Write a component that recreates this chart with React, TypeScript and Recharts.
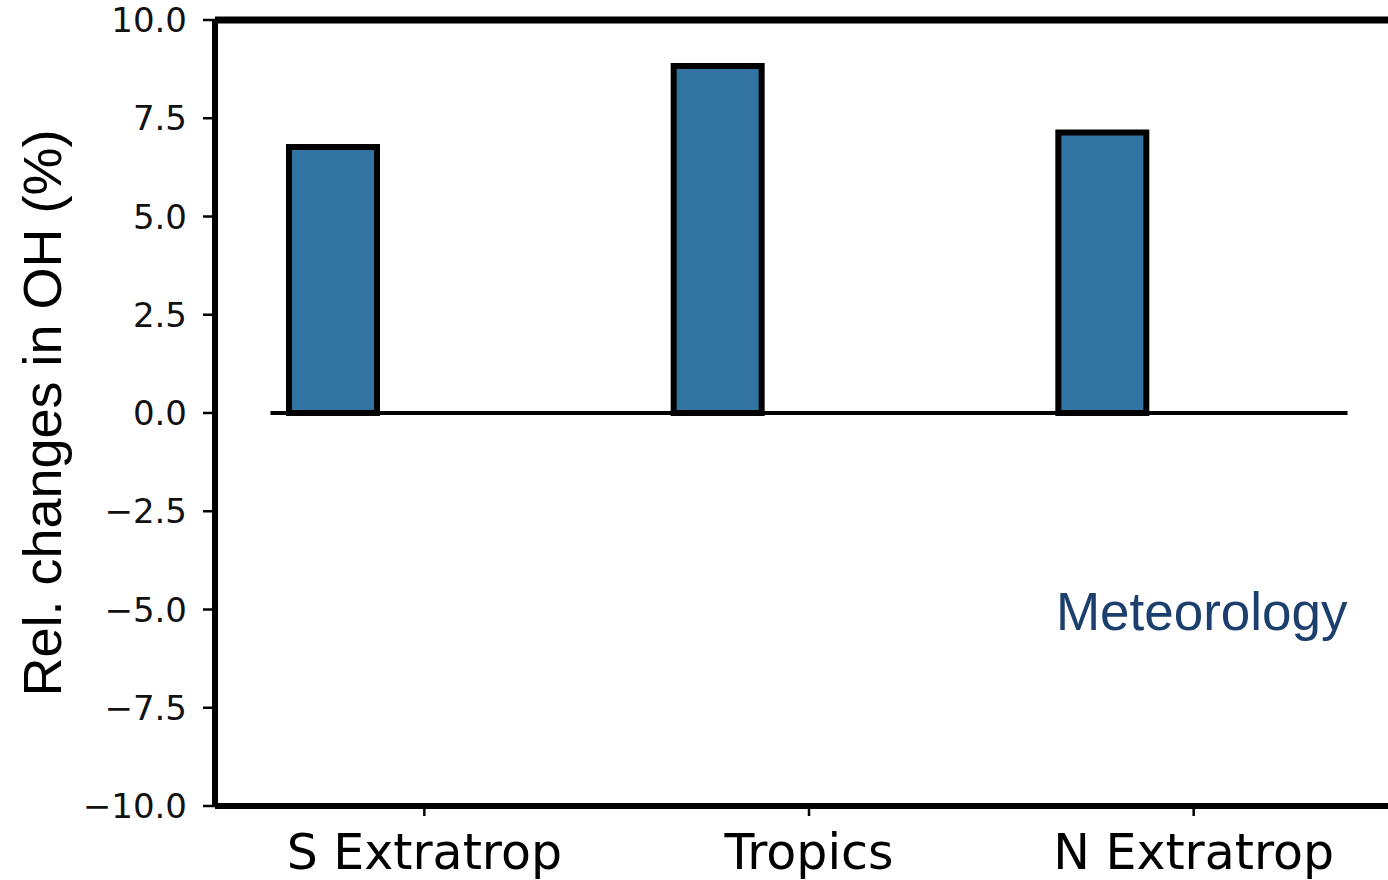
import {
  BarChart,
  Bar,
  XAxis,
  YAxis,
  ReferenceLine,
  ReferenceDot,
} from "recharts";

// regions along the x axis
const regions = ["S Extratrop", "Tropics", "N Extratrop"];
// relative OH change (%) for the meteorology run
const meteorology = [6.77, 8.83, 7.14];
// two empty slots that the original plot keeps next to each bar
const emptyB = [null, null, null];
const emptyC = [null, null, null];
const xTicks = [0, 1, 2];
const yTicks = [10, 7.5, 5, 2.5, 0, -2.5, -5, -7.5, -10];

const chartData = regions.map((name, i) => ({
  pos: i,
  name,
  met: meteorology[i],
  b: emptyB[i],
  c: emptyC[i],
}));

const fmt = (v: number) => {
  const s = Math.abs(v).toFixed(1);
  return v < 0 ? "\u2212" + s : s;
};

export default function App() {
  return (
    <div
      style={{
        position: "absolute",
        left: 0,
        top: 0,
        width: 1388,
        height: 880,
        overflow: "hidden",
        background: "#fff",
      }}
    >
      <BarChart
        width={1403}
        height={880}
        data={chartData}
        margin={{ top: 20, right: 0, left: 0, bottom: 0 }}
        barGap={3}
        barSize={88}
      >
        <XAxis
          dataKey="pos"
          type="number"
          domain={[-0.5442, 2.5442]}
          allowDataOverflow
          ticks={xTicks}
          interval={0}
          tickFormatter={(i: number) => regions[i] ?? ""}
          height={74}
          axisLine={{ stroke: "#000", strokeWidth: 6 }}
          tickLine={{ stroke: "#000", strokeWidth: 2.5 }}
          tickSize={10}
          tickMargin={18}
          tick={{ fill: "#000", fontSize: 49, fontFamily: "DejaVu Sans" }}
        />
        <YAxis
          width={215}
          domain={[-10, 10]}
          ticks={yTicks}
          interval={0}
          tickFormatter={fmt}
          axisLine={{ stroke: "#000", strokeWidth: 6 }}
          tickLine={{ stroke: "#000", strokeWidth: 2.5 }}
          tickSize={12}
          tickMargin={16}
          tick={{ fill: "#111", fontSize: 34, fontFamily: "DejaVu Sans" }}
          label={{
            value: "Rel. changes in OH (%)",
            angle: -90,
            position: "insideLeft",
            offset: 42,
            textAnchor: "middle",
            fill: "#000",
            fontSize: 54,
            fontFamily: "Liberation Sans",
          }}
        />
        <Bar
          dataKey="met"
          fill="#3274a1"
          stroke="#000"
          strokeWidth={6}
          isAnimationActive={false}
        />
        <Bar dataKey="b" fill="#e1812c" isAnimationActive={false} />
        <Bar dataKey="c" fill="#3a923a" isAnimationActive={false} />
        <ReferenceLine y={10} stroke="#000" strokeWidth={7} />
        <ReferenceLine
          segment={[
            { x: -0.4, y: 0 },
            { x: 2.4, y: 0 },
          ]}
          stroke="#000"
          strokeWidth={4}
        />
        <ReferenceDot
          x={2.4}
          y={-5.05}
          r={0}
          stroke="none"
          fill="none"
          label={{
            value: "Meteorology",
            position: "left",
            offset: 0,
            fill: "#1c3f6e",
            fontSize: 53,
            fontFamily: "Liberation Sans",
          }}
        />
      </BarChart>
    </div>
  );
}
